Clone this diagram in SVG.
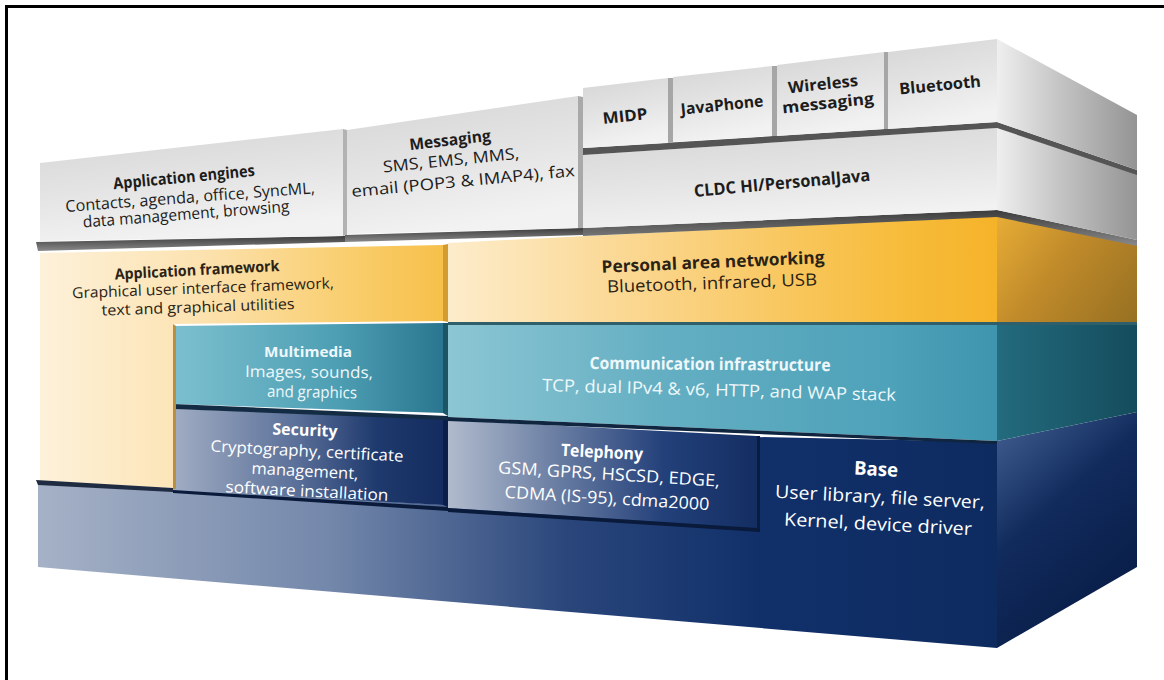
<svg xmlns="http://www.w3.org/2000/svg" width="1164" height="680" viewBox="0 0 1164 680">
  <defs>
    <style>
      text { font-family: "Open Sans", "Liberation Sans", sans-serif; text-anchor: middle; }
      .dk { fill: #1c1c1c; }
      .yl { fill: #2a2214; }
      .lt { fill: #eef8fb; }
      .wt { fill: #ffffff; }
      .b { font-weight: bold; }
      .shadow { fill: url(#shadowGrad); }
    </style>
    <linearGradient id="grayFace" x1="0" y1="0" x2="0.3" y2="1">
      <stop offset="0" stop-color="#d5d5d5"/>
      <stop offset="0.55" stop-color="#e4e4e4"/>
      <stop offset="1" stop-color="#f2f2f2"/>
    </linearGradient>
    <linearGradient id="graySide" gradientUnits="userSpaceOnUse" x1="997" y1="0" x2="1137" y2="0">
      <stop offset="0" stop-color="#efefef"/>
      <stop offset="0.45" stop-color="#c4c4c4"/>
      <stop offset="1" stop-color="#949494"/>
    </linearGradient>
    <linearGradient id="shadowGrad" x1="0" y1="0" x2="0" y2="1">
      <stop offset="0" stop-color="#3c3c3c"/>
      <stop offset="1" stop-color="#8a8a8a"/>
    </linearGradient>
    <linearGradient id="frameworkGrad" gradientUnits="userSpaceOnUse" x1="40" y1="0" x2="443" y2="0">
      <stop offset="0" stop-color="#fdf1da"/>
      <stop offset="0.4" stop-color="#fce2b0"/>
      <stop offset="0.8" stop-color="#f9cc68"/>
      <stop offset="1" stop-color="#f7c04a"/>
    </linearGradient>
    <linearGradient id="panGrad" gradientUnits="userSpaceOnUse" x1="448" y1="0" x2="997" y2="0">
      <stop offset="0" stop-color="#fdeccb"/>
      <stop offset="0.4" stop-color="#fad385"/>
      <stop offset="0.8" stop-color="#f7bd3e"/>
      <stop offset="1" stop-color="#f5b329"/>
    </linearGradient>
    <linearGradient id="yellowSide" gradientUnits="userSpaceOnUse" x1="997" y1="215" x2="1137" y2="322">
      <stop offset="0" stop-color="#e8ad36"/>
      <stop offset="0.45" stop-color="#c08a2a"/>
      <stop offset="1" stop-color="#967022"/>
    </linearGradient>
    <linearGradient id="multimediaGrad" gradientUnits="userSpaceOnUse" x1="173" y1="0" x2="443" y2="0">
      <stop offset="0" stop-color="#7cc0cf"/>
      <stop offset="0.6" stop-color="#4e9fb4"/>
      <stop offset="1" stop-color="#2a7690"/>
    </linearGradient>
    <linearGradient id="commGrad" gradientUnits="userSpaceOnUse" x1="448" y1="0" x2="997" y2="0">
      <stop offset="0" stop-color="#8cc6d3"/>
      <stop offset="0.4" stop-color="#63aec2"/>
      <stop offset="0.8" stop-color="#4ea2b9"/>
      <stop offset="1" stop-color="#3f95ae"/>
    </linearGradient>
    <linearGradient id="tealSide" gradientUnits="userSpaceOnUse" x1="997" y1="0" x2="1137" y2="0">
      <stop offset="0" stop-color="#236b7e"/>
      <stop offset="1" stop-color="#144c5c"/>
    </linearGradient>
    <linearGradient id="securityGrad" gradientUnits="userSpaceOnUse" x1="173" y1="0" x2="443" y2="0">
      <stop offset="0" stop-color="#a1adc3"/>
      <stop offset="0.45" stop-color="#5c719a"/>
      <stop offset="0.75" stop-color="#1f3a6e"/>
      <stop offset="1" stop-color="#142c5f"/>
    </linearGradient>
    <linearGradient id="telephonyGrad" gradientUnits="userSpaceOnUse" x1="448" y1="0" x2="757" y2="0">
      <stop offset="0" stop-color="#b1bbcd"/>
      <stop offset="0.35" stop-color="#6a7ea3"/>
      <stop offset="0.7" stop-color="#23407a"/>
      <stop offset="1" stop-color="#142e62"/>
    </linearGradient>
    <linearGradient id="baseGrad" gradientUnits="userSpaceOnUse" x1="40" y1="0" x2="997" y2="0">
      <stop offset="0" stop-color="#a5b1c6"/>
      <stop offset="0.3" stop-color="#7488ab"/>
      <stop offset="0.55" stop-color="#2a467b"/>
      <stop offset="0.75" stop-color="#11306a"/>
      <stop offset="1" stop-color="#0e2b60"/>
    </linearGradient>
    <linearGradient id="navySide" gradientUnits="userSpaceOnUse" x1="997" y1="441" x2="1137" y2="600">
      <stop offset="0" stop-color="#3b5789"/>
      <stop offset="0.4" stop-color="#112b5d"/>
      <stop offset="1" stop-color="#081c45"/>
    </linearGradient>
  </defs>

  <rect width="1164" height="680" fill="#ffffff"/>

  <!-- outer frame: top and left rules -->
  <g id="frame" stroke="#000" stroke-width="3" fill="none">
    <line x1="5" y1="6.5" x2="1164" y2="6.5"/>
    <line x1="6.5" y1="5" x2="6.5" y2="680"/>
  </g>

  <!-- bottom slab -->
  <g id="base">
    <path d="M38,481 L448,505 L757,526 L757,437 L997,442 L997,648 L38,567 Z" fill="url(#baseGrad)"/>
    <path d="M997,441 L1137,412 L1137,567 L997,648 Z" fill="url(#navySide)"/>
    <text class="wt b" font-size="19" textLength="44" lengthAdjust="spacingAndGlyphs" transform="translate(876 469) rotate(3)" dy="0.35em">Base</text>
    <text class="wt" font-size="18" textLength="210" lengthAdjust="spacingAndGlyphs" transform="translate(880 497) rotate(3)" dy="0.35em">User library, file server,</text>
    <text class="wt" font-size="18" textLength="188" lengthAdjust="spacingAndGlyphs" transform="translate(878 524) rotate(3)" dy="0.35em">Kernel, device driver</text>
  </g>

  <g id="security">
    <path d="M173,409 L443,417 L443,505 L173,490 Z" fill="url(#securityGrad)"/>
    <path d="M443,417 L448,418 L448,507 L443,505 Z" fill="#0b1f4a"/>
    <path d="M173,490 L448,507 L448,511 L173,493 Z" fill="#0a1a3a"/>
    <text class="wt b" font-size="16" textLength="65" lengthAdjust="spacingAndGlyphs" transform="translate(305 430) rotate(2)" dy="0.35em">Security</text>
    <text class="wt" font-size="16" textLength="193" lengthAdjust="spacingAndGlyphs" transform="translate(307 451) rotate(3)" dy="0.35em">Cryptography, certificate</text>
    <text class="wt" font-size="16" textLength="107" lengthAdjust="spacingAndGlyphs" transform="translate(305 471) rotate(3)" dy="0.35em">management,</text>
    <text class="wt" font-size="16" textLength="163" lengthAdjust="spacingAndGlyphs" transform="translate(307 491) rotate(3)" dy="0.35em">software installation</text>
  </g>

  <g id="telephony">
    <path d="M448,420 L757,436 L757,528 L448,508 Z" fill="url(#telephonyGrad)"/>
    <path d="M448,508 L757,528 L760,528 L760,532 L448,512 Z" fill="#0a1a3a"/>
    <path d="M757,436 L760,436 L760,530 L757,528 Z" fill="#0a1c44"/>
    <text class="wt b" font-size="17" textLength="82" lengthAdjust="spacingAndGlyphs" transform="translate(602 452) rotate(3)" dy="0.35em">Telephony</text>
    <text class="wt" font-size="17" textLength="222" lengthAdjust="spacingAndGlyphs" transform="translate(609 474) rotate(3.5)" dy="0.35em">GSM, GPRS, HSCSD, EDGE,</text>
    <text class="wt" font-size="17" textLength="205" lengthAdjust="spacingAndGlyphs" transform="translate(607 498) rotate(3.5)" dy="0.35em">CDMA (IS-95), cdma2000</text>
  </g>

  <g id="multimedia">
    <path d="M173,326 L443,323 L443,413 L173,404 Z" fill="url(#multimediaGrad)"/>
    <path d="M443,323 L448,323 L448,416 L443,413 Z" fill="#1b5566"/>
    <path d="M173,404 L448,416 L448,420 L173,409 Z" fill="#132c44"/>
    <text class="lt b" font-size="15" textLength="88" lengthAdjust="spacingAndGlyphs" transform="translate(308 352)" dy="0.35em">Multimedia</text>
    <text class="lt" font-size="16" textLength="128" lengthAdjust="spacingAndGlyphs" transform="translate(309 372) rotate(0.5)" dy="0.35em">Images, sounds,</text>
    <text class="lt" font-size="16" textLength="90" lengthAdjust="spacingAndGlyphs" transform="translate(312 392) rotate(1)" dy="0.35em">and graphics</text>
  </g>

  <g id="communication-infrastructure">
    <path d="M448,325 L997,325 L997,441 L448,417 Z" fill="url(#commGrad)"/>
    <path d="M997,325 L1137,325 L1137,412 L997,441 Z" fill="url(#tealSide)"/>
    <path d="M448,417 L997,441 L997,444 L448,421 Z" fill="#0f2540"/>
    <text class="lt b" font-size="17" textLength="241" lengthAdjust="spacingAndGlyphs" transform="translate(710 364) rotate(0.5)" dy="0.35em">Communication infrastructure</text>
    <text class="lt" font-size="17" textLength="354" lengthAdjust="spacingAndGlyphs" transform="translate(719 390) rotate(1.6)" dy="0.35em">TCP, dual IPv4 &amp; v6, HTTP, and WAP stack</text>
  </g>

  <g id="application-framework">
    <path d="M40,253 L443,245 L443,321 L173,324 L173,488 L40,481 Z" fill="url(#frameworkGrad)"/>
    <path d="M443,245 L448,244 L448,322 L443,321 Z" fill="#d39b30"/>
    <path d="M173,324 L173,489 L176,489 L176,326 Z" fill="#b89040"/>
    <path d="M36,480 L173,488 L173,492 L38,485 Z" fill="#1f2b40"/>
    <text class="yl b" font-size="15" textLength="165" lengthAdjust="spacingAndGlyphs" transform="translate(197 270) rotate(-3)" dy="0.35em">Application framework</text>
    <text class="yl" font-size="15" textLength="262" lengthAdjust="spacingAndGlyphs" transform="translate(203 288) rotate(-2.2)" dy="0.35em">Graphical user interface framework,</text>
    <text class="yl" font-size="15" textLength="193" lengthAdjust="spacingAndGlyphs" transform="translate(198 307) rotate(-2)" dy="0.35em">text and graphical utilities</text>
  </g>

  <g id="personal-area-networking">
    <path d="M448,243 L997,215 L997,322 L448,322 Z" fill="url(#panGrad)"/>
    <path d="M997,215 L1137,243 L1137,322 L997,322 Z" fill="url(#yellowSide)"/>
    <path d="M448,322 L1137,322 L1137,325 L448,325 Z" fill="#2f5f6a"/>
    <text class="yl b" font-size="17" textLength="223" lengthAdjust="spacingAndGlyphs" transform="translate(713 262) rotate(-2.5)" dy="0.35em">Personal area networking</text>
    <text class="yl" font-size="17" textLength="210" lengthAdjust="spacingAndGlyphs" transform="translate(712 283) rotate(-2)" dy="0.35em">Bluetooth, infrared, USB</text>
  </g>

  <g id="application-engines">
    <path d="M36,242 L345,236 L345,242 L38,251 Z" class="shadow"/>
    <path d="M40,163 L343,129 L343,236 L40,241 Z" fill="url(#grayFace)"/>
    <path d="M343,129 L347,130 L347,235 L343,236 Z" fill="#b2b2b2"/>
    <text class="dk b" font-size="16" textLength="142" lengthAdjust="spacingAndGlyphs" transform="translate(184 177) rotate(-5.4)" dy="0.35em">Application engines</text>
    <text class="dk" font-size="16" textLength="250" lengthAdjust="spacingAndGlyphs" transform="translate(190 197) rotate(-4.3)" dy="0.35em">Contacts, agenda, office, SyncML,</text>
    <text class="dk" font-size="16" textLength="207" lengthAdjust="spacingAndGlyphs" transform="translate(186 214) rotate(-4.4)" dy="0.35em">data management, browsing</text>
  </g>

  <g id="messaging">
    <path d="M345,235 L583,228 L583,235 L345,242 Z" class="shadow"/>
    <path d="M347,130 L578,96 L578,228 L347,234 Z" fill="url(#grayFace)"/>
    <path d="M578,96 L583,97 L583,228 L578,228 Z" fill="#a9a9a9"/>
    <text class="dk b" font-size="16" textLength="82" lengthAdjust="spacingAndGlyphs" transform="translate(450 140) rotate(-6.5)" dy="0.35em">Messaging</text>
    <text class="dk" font-size="16" textLength="137" lengthAdjust="spacingAndGlyphs" transform="translate(451 160) rotate(-5.7)" dy="0.35em">SMS, EMS, MMS,</text>
    <text class="dk" font-size="16" textLength="224" lengthAdjust="spacingAndGlyphs" transform="translate(463 181) rotate(-5.4)" dy="0.35em">email (POP3 &amp; IMAP4), fax</text>
  </g>

  <g id="cldc-personaljava">
    <path d="M583,228 L997,210 L1137,240 L1137,246 L997,217 L583,236 Z" class="shadow"/>
    <path d="M583,155 L997,128 L997,210 L583,228 Z" fill="url(#grayFace)"/>
    <path d="M997,128 L1137,174 L1137,240 L997,210 Z" fill="url(#graySide)"/>
    <text class="dk b" font-size="17" textLength="177" lengthAdjust="spacingAndGlyphs" transform="translate(782 183) rotate(-5.2)" dy="0.35em">CLDC HI/PersonalJava</text>
  </g>

  <!-- shadow below the row of Java APIs -->
  <path d="M583,148 L997,122 L1137,170 L1137,175 L997,128 L583,155 Z" fill="#555"/>

  <g id="midp">
    <path d="M583,88 L668,78 L668,143 L583,148 Z" fill="url(#grayFace)"/>
    <path d="M668,78 L673,78 L673,142 L668,143 Z" fill="#a6a6a6"/>
    <text class="dk b" font-size="16" textLength="45" lengthAdjust="spacingAndGlyphs" transform="translate(625 116) rotate(-6)" dy="0.35em">MIDP</text>
  </g>

  <g id="javaphone">
    <path d="M673,77 L772,66 L772,136 L673,142 Z" fill="url(#grayFace)"/>
    <path d="M772,66 L777,66 L777,136 L772,136 Z" fill="#a6a6a6"/>
    <text class="dk b" font-size="16" textLength="83" lengthAdjust="spacingAndGlyphs" transform="translate(722 105) rotate(-6)" dy="0.35em">JavaPhone</text>
  </g>

  <g id="wireless-messaging">
    <path d="M777,65 L884,52 L884,129 L777,136 Z" fill="url(#grayFace)"/>
    <path d="M884,52 L888,52 L888,129 L884,129 Z" fill="#a6a6a6"/>
    <text class="dk b" font-size="16" textLength="70" lengthAdjust="spacingAndGlyphs" transform="translate(823 84) rotate(-6)" dy="0.35em">Wireless</text>
    <text class="dk b" font-size="16" textLength="92" lengthAdjust="spacingAndGlyphs" transform="translate(828 103) rotate(-6)" dy="0.35em">messaging</text>
  </g>

  <g id="bluetooth">
    <path d="M888,52 L997,39 L997,122 L888,129 Z" fill="url(#grayFace)"/>
    <path d="M997,39 L1137,115 L1137,170 L997,122 Z" fill="url(#graySide)"/>
    <text class="dk b" font-size="16" textLength="82" lengthAdjust="spacingAndGlyphs" transform="translate(940 85) rotate(-5.5)" dy="0.35em">Bluetooth</text>
  </g>

  <g id="connectors"/>
</svg>
